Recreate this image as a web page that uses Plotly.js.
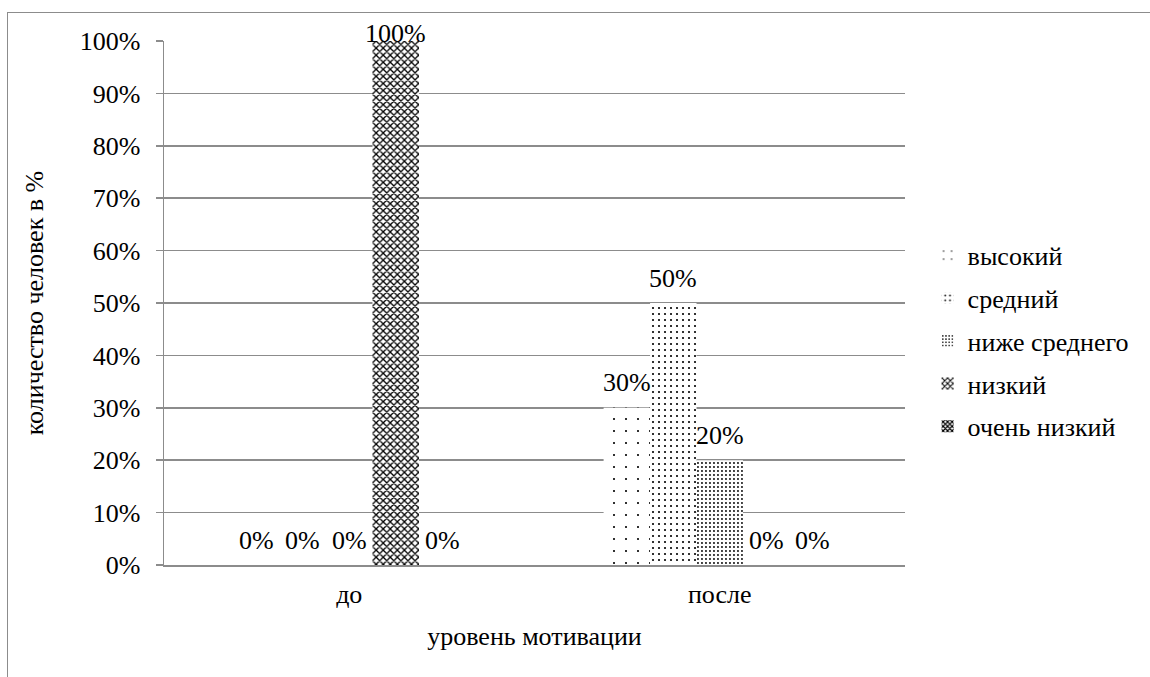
<!DOCTYPE html>
<html>
<head>
<meta charset="utf-8">
<script src="https://cdn.plot.ly/plotly-3.0.1.min.js"></script>
<style>
  html, body { margin: 0; padding: 0; background: #fff; }
  #wrap { position: relative; width: 1150px; height: 677px; overflow: hidden; }
  #frame { position: absolute; left: 7px; top: 12px; width: 1200px; height: 700px;
           border-left: 1.5px solid #8c8c8c; border-top: 1.5px solid #8c8c8c; pointer-events: none; }
  #chart { position: absolute; left: 0; top: 0; width: 1150px; height: 677px; }
</style>
</head>
<body>
<div id="wrap">
  <div id="chart"></div>
  <div id="frame"></div>
</div>
<script>
// Motivation level before / after, share of people per level
const categories = ['до', 'после'];
const levels = ['высокий', 'средний', 'ниже среднего', 'низкий', 'очень низкий'];
const vysokiy      = [0, 0.30];
const sredniy      = [0, 0.50];
const nizheSredn   = [0, 0.20];
const nizkiy       = [1.00, 0];
const ochenNizkiy  = [0, 0];
const seriesValues = [vysokiy, sredniy, nizheSredn, nizkiy, ochenNizkiy];

// fill patterns per level
const patterns = [
  {shape: '.', size: 12, solidity: 0.025},
  {shape: '.', size: 6,  solidity: 0.10},
  {shape: '.', size: 4,  solidity: 0.18},
  {shape: 'x', size: 5,  solidity: 0.45},
  {shape: 'x', size: 4,  solidity: 0.6}
];

const FONT = 'Liberation Serif, DejaVu Serif';
const FS = 26;
const GRID = '#8c8c8c';
const BARGAP = 0.373;

const traces = seriesValues.map((vals, i) => ({
  type: 'bar',
  name: levels[i],
  x: categories,
  y: vals,
  legendgroup: 'g' + i,
  marker: {
    color: '#ffffff',
    line: {width: 0},
    pattern: Object.assign({fgcolor: '#000000', bgcolor: '#ffffff', fillmode: 'replace'}, patterns[i])
  },
  hoverinfo: 'skip'
}));

// value labels above each bar
const slot = (1 - BARGAP) / levels.length;
const annotations = [];
seriesValues.forEach((vals, i) => {
  vals.forEach((v, j) => {
    annotations.push({
      x: j + (i - (levels.length - 1) / 2) * slot,
      y: v,
      xref: 'x', yref: 'y',
      text: Math.round(v * 100) + '%',
      showarrow: false,
      yanchor: 'middle',
      yshift: v >= 1 ? 8 : 25,
      font: {family: FONT, size: FS, color: '#000'}
    });
  });
});

const layout = {
  width: 1150, height: 677,
  margin: {l: 164, r: 245, t: 41, b: 112, pad: 0},
  paper_bgcolor: 'rgba(0,0,0,0)',
  plot_bgcolor: '#ffffff',
  barmode: 'group',
  bargap: BARGAP,
  bargroupgap: 0,
  showlegend: true,
  font: {family: FONT, size: FS, color: '#000'},
  xaxis: {
    type: 'category',
    showline: true, linecolor: GRID, linewidth: 1.5,
    ticks: '', showgrid: false,
    ticklabelstandoff: 5,
    tickfont: {family: FONT, size: FS},
    title: {text: 'уровень мотивации', font: {family: FONT, size: FS}, standoff: 19}
  },
  yaxis: {
    range: [0, 1], dtick: 0.1, tickformat: '.0%',
    showline: true, linecolor: GRID, linewidth: 1.5,
    ticks: 'outside', ticklen: 7, tickcolor: GRID, tickwidth: 1.5,
    ticklabelstandoff: 10,
    showgrid: true, gridcolor: GRID, gridwidth: 1.5,
    zeroline: false,
    tickfont: {family: FONT, size: FS},
    title: {text: 'количество человек в %', font: {family: FONT, size: FS}, standoff: 28}
  },
  legend: {
    x: 1.0305, xanchor: 'left', y: 0.636, yanchor: 'top',
    font: {family: FONT, size: FS},
    traceorder: 'grouped',
    tracegroupgap: 6,
    itemwidth: 30,
    bgcolor: 'rgba(0,0,0,0)'
  },
  annotations: annotations
};

Plotly.newPlot('chart', traces, layout, {displayModeBar: false, staticPlot: true});
</script>
</body>
</html>
